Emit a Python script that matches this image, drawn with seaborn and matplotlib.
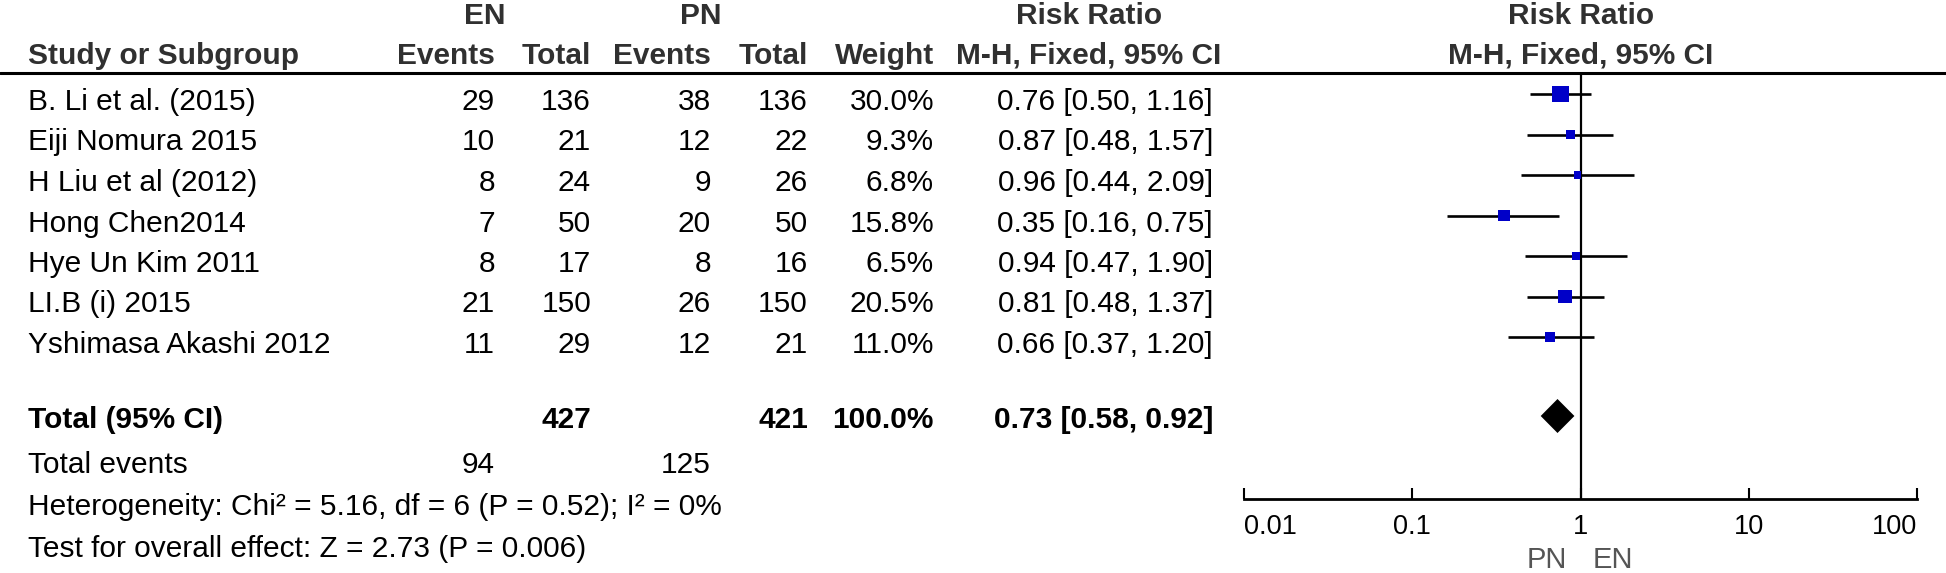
import matplotlib.pyplot as plt
import seaborn as sns

# ------------------------------------------------------------------
# dados do forest plot (EN x PN, Risk Ratio M-H fixed)
# ------------------------------------------------------------------
studies = ["B. Li et al. (2015)", "Eiji Nomura 2015", "H Liu et al (2012)",
           "Hong Chen2014", "Hye Un Kim 2011", "LI.B (i) 2015",
           "Yshimasa Akashi 2012"]
en_events = [29, 10, 8, 7, 8, 21, 11]
en_total = [136, 21, 24, 50, 17, 150, 29]
pn_events = [38, 12, 9, 20, 8, 26, 12]
pn_total = [136, 22, 26, 50, 16, 150, 21]
weights = [30.0, 9.3, 6.8, 15.8, 6.5, 20.5, 11.0]
rr = [0.76, 0.87, 0.96, 0.35, 0.94, 0.81, 0.66]
ci_low = [0.50, 0.48, 0.44, 0.16, 0.47, 0.48, 0.37]
ci_high = [1.16, 1.57, 2.09, 0.75, 1.90, 1.37, 1.20]

total_rr, total_low, total_high = 0.73, 0.58, 0.92
total_weight = "100.0%"
heterogeneity = "Heterogeneity: Chi² = 5.16, df = 6 (P = 0.52); I² = 0%"
overall_effect = "Test for overall effect: Z = 2.73 (P = 0.006)"
tick_vals = [0.01, 0.1, 1, 10, 100]
tick_labels = ["0.01", "0.1", "1", "10", "100"]

# ------------------------------------------------------------------
# layout (pixels of a 1946x573 figure)
# ------------------------------------------------------------------
W, H = 1946, 573
row_base = [110 + 40.5 * i for i in range(len(studies))]   # text baselines
mark_y = [b - 16 for b in row_base]                          # marker centres
total_base, total_y = 428, 416

col_study, col_en_ev, col_en_tot = 28, 495, 591
col_pn_ev, col_pn_tot, col_weight, col_ci = 711, 808, 934, 1213
col_rr_head = 1089

sns.set_theme(style="white")
plt.rcParams['font.family'] = ['Liberation Sans', 'DejaVu Sans']
fs = 21.5
head_color = "#303030"

fig = plt.figure(figsize=(W / 100, H / 100), dpi=100)

# fundo: tabela de texto
bg = fig.add_axes([0, 0, 1, 1])
bg.set_xlim(0, W)
bg.set_ylim(H, 0)
bg.axis('off')

def txt(x, y, s, ha='right', bold=False, color='black', size=fs):
    bg.text(x, y, s, ha=ha, va='baseline', fontsize=size, color=color,
            fontweight='bold' if bold else 'normal')

# cabeçalhos
txt(485, 24, "EN", ha='center', bold=True, color=head_color)
txt(701, 24, "PN", ha='center', bold=True, color=head_color)
txt(col_rr_head, 24, "Risk Ratio", ha='center', bold=True, color=head_color)
txt(1581, 24, "Risk Ratio", ha='center', bold=True, color=head_color)
txt(col_study, 64, "Study or Subgroup", ha='left', bold=True, color=head_color)
txt(col_en_ev, 64, "Events", bold=True, color=head_color)
txt(col_en_tot, 64, "Total", bold=True, color=head_color)
txt(col_pn_ev, 64, "Events", bold=True, color=head_color)
txt(col_pn_tot, 64, "Total", bold=True, color=head_color)
txt(col_weight, 64, "Weight", bold=True, color=head_color)
txt(col_rr_head, 64, "M-H, Fixed, 95% CI", ha='center', bold=True, color=head_color)
txt(1581, 64, "M-H, Fixed, 95% CI", ha='center', bold=True, color=head_color)
bg.axhline(73, color='black', lw=2.2)

# linhas dos estudos
for i, nome in enumerate(studies):
    y = row_base[i]
    txt(col_study, y, nome, ha='left')
    txt(col_en_ev, y, str(en_events[i]))
    txt(col_en_tot, y, str(en_total[i]))
    txt(col_pn_ev, y, str(pn_events[i]))
    txt(col_pn_tot, y, str(pn_total[i]))
    txt(col_weight, y, f"{weights[i]:.1f}%")
    txt(col_ci, y, f"{rr[i]:.2f} [{ci_low[i]:.2f}, {ci_high[i]:.2f}]")

# total
txt(col_study, total_base, "Total (95% CI)", ha='left', bold=True)
txt(col_en_tot, total_base, str(sum(en_total)), bold=True)
txt(col_pn_tot, total_base, str(sum(pn_total)), bold=True)
txt(col_weight, total_base, total_weight, bold=True)
txt(col_ci, total_base, f"{total_rr:.2f} [{total_low:.2f}, {total_high:.2f}]", bold=True)

txt(col_study, 473, "Total events", ha='left')
txt(col_en_ev, 473, str(sum(en_events)))
txt(col_pn_ev, 473, str(sum(pn_events)))
txt(col_study, 515, heterogeneity, ha='left')
txt(col_study, 557, overall_effect, ha='left')

txt(1567, 568, "PN", ha='right', color="#555555", size=21)
txt(1593, 568, "EN", ha='left', color="#555555", size=21)

# ------------------------------------------------------------------
# forest plot
# ------------------------------------------------------------------
ax = fig.add_axes([1244 / W, (H - 499) / H, (1917 - 1244) / W, (499 - 73) / H])
ax.patch.set_alpha(0)
ax.set_xscale('log')
ax.set_xlim(0.01, 100)
ax.set_ylim(499, 73)

ax.axvline(1, color='black', lw=1.6, zorder=1)
ax.hlines(mark_y, ci_low, ci_high, color='black', lw=1.9, zorder=2)
sns.scatterplot(x=rr, y=mark_y, size=weights, sizes=(4.7 * min(weights), 4.7 * max(weights)),
                size_norm=(min(weights), max(weights)), marker='s', color='#0000C8',
                linewidth=0, legend=False, ax=ax, zorder=3)
ax.fill([total_low, total_rr, total_high, total_rr],
        [total_y, total_y - 17, total_y, total_y + 17], color='black', lw=0, zorder=3)

for lado in ['top', 'left', 'right']:
    ax.spines[lado].set_visible(False)
ax.spines['bottom'].set_linewidth(2.0)
ax.spines['bottom'].set_color('black')
ax.set_yticks([])
ax.set_xticks(tick_vals)
ax.set_xticklabels(tick_labels)
ax.xaxis.set_minor_locator(plt.NullLocator())
ax.tick_params(axis='x', direction='in', length=8, width=1.5, pad=11,
               labelsize=19.5, colors='black', bottom=True)
rot = ax.get_xticklabels()
rot[0].set_ha('left')
rot[-1].set_ha('right')
ax.set_xlabel('')
ax.set_ylabel('')
ax.grid(False)

fig.savefig('out.png', dpi=100)
